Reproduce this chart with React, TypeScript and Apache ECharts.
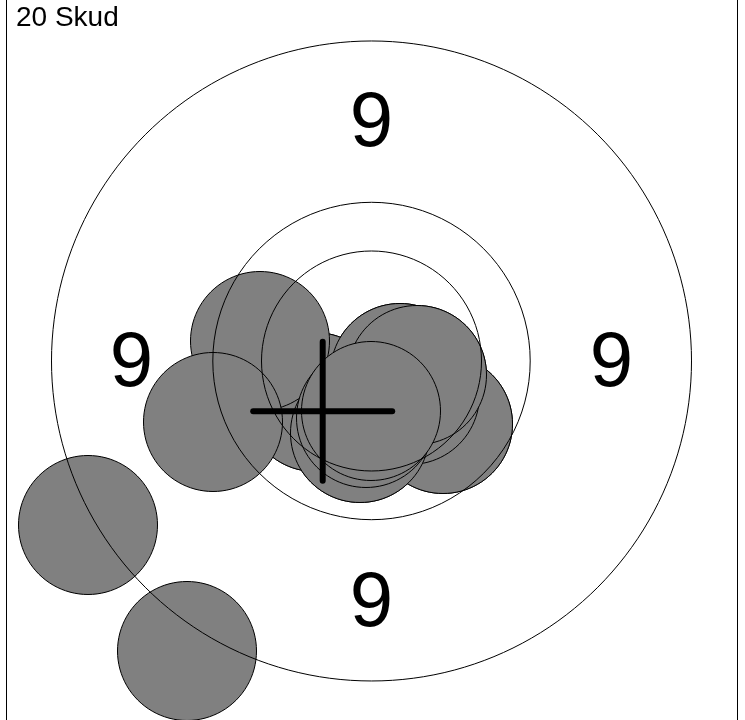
import React, { useEffect, useRef } from "react";
import * as echarts from "echarts";

// Target units: centre of target at (0,0)
const ringRadii = [32.0, 15.87, 11.0];
const ringLabelText = ["9", "9", "9", "9"];
const ringLabelX = [0, 0, -24, 24];
const ringLabelY = [24, -24, 0, 0];

const shotRadius = 6.95;
// 20 shots in firing/draw order (several holes overlap almost exactly)
const shotX = [
  -0.05, 2.85, 3.85, 7.15, -1.15, -0.55, 4.55, -5.65,
  -28.35, -18.45, -5.65, -11.15, -15.85,
  7.15, 3.85, 2.85, 4.55, -1.15, -0.55, -0.05,
];
const shotY = [
  -5.0, -1.2, -3.4, -6.3, -7.2, -5.7, -1.4, -4.1,
  -16.4, -29.0, -4.1, 2.0, -6.1,
  -6.3, -3.4, -1.2, -1.4, -7.2, -5.7, -5.0,
];

const meanPoint = [-4.88, -5.02];
const titleText = "20 Skud";

export default function App() {
  const ref = useRef<HTMLDivElement>(null);
  useEffect(() => {
    if (!ref.current) return;
    const chart = echarts.init(ref.current, null, { renderer: "svg" });
    const shots = shotX.map((x, i) => [x, shotY[i], shotRadius]);
    const rings = ringRadii.map((r) => [0, 0, r]);
    const labels = ringLabelX.map((x, i) => [x, ringLabelY[i], ringLabelText[i]]);
    chart.setOption({
      animation: false,
      title: {
        text: titleText,
        left: 11,
        top: 17,
        textStyle: { fontSize: 28, fontWeight: "normal", color: "#000", fontFamily: "Liberation Sans" },
      },
      grid: {
        left: 6.5,
        right: 7.5,
        top: 15.5,
        bottom: 13.5,
        show: true,
        borderColor: "#000",
        borderWidth: 1,
        backgroundColor: "transparent",
      },
      xAxis: { type: "value", min: -36.5, max: 36.6, show: false },
      yAxis: { type: "value", min: -36.55, max: 36.55, show: false },
      series: [
        {
          type: "custom",
          clip: false,
          data: shots,
          renderItem: (params: any, api: any) => {
            const c = api.coord([api.value(0), api.value(1)]);
            const r = api.size([api.value(2), 0])[0];
            return {
              type: "circle",
              shape: { cx: c[0], cy: c[1], r },
              style: { fill: "#808080", stroke: "#000", lineWidth: 1 },
            };
          },
          z: 1,
        },
        {
          type: "custom",
          clip: false,
          data: rings,
          renderItem: (params: any, api: any) => {
            const c = api.coord([api.value(0), api.value(1)]);
            const r = api.size([api.value(2), 0])[0];
            return {
              type: "circle",
              shape: { cx: c[0], cy: c[1], r },
              style: { fill: "none", stroke: "#000", lineWidth: 1 },
            };
          },
          z: 2,
        },
        {
          type: "custom",
          data: labels,
          renderItem: (params: any, api: any) => {
            const c = api.coord([api.value(0), api.value(1)]);
            return {
              type: "text",
              x: c[0],
              y: c[1] - 2,
              style: {
                text: String(labels[params.dataIndex][2]),
                align: "center",
                verticalAlign: "middle",
                fontSize: 78,
                fontFamily: "Liberation Sans",
                fill: "#000",
              },
            };
          },
          z: 3,
        },
        {
          type: "custom",
          data: [[meanPoint[0], meanPoint[1], shotRadius]],
          renderItem: (params: any, api: any) => {
            const cx = api.value(0);
            const cy = api.value(1);
            const a = api.value(2);
            const l = api.coord([cx - a, cy]);
            const r = api.coord([cx + a, cy]);
            const t = api.coord([cx, cy + a]);
            const b = api.coord([cx, cy - a]);
            const st = { stroke: "#000", lineWidth: 6, lineCap: "round" };
            return {
              type: "group",
              children: [
                { type: "line", shape: { x1: l[0], y1: l[1], x2: r[0], y2: r[1] }, style: st },
                { type: "line", shape: { x1: t[0], y1: t[1], x2: b[0], y2: b[1] }, style: st },
              ],
            };
          },
          z: 4,
        },
      ],
    });
    return () => chart.dispose();
  }, []);
  return (
    <div
      ref={ref}
      style={{ position: "fixed", left: 0, top: -20, width: 745, height: 760 }}
    />
  );
}
